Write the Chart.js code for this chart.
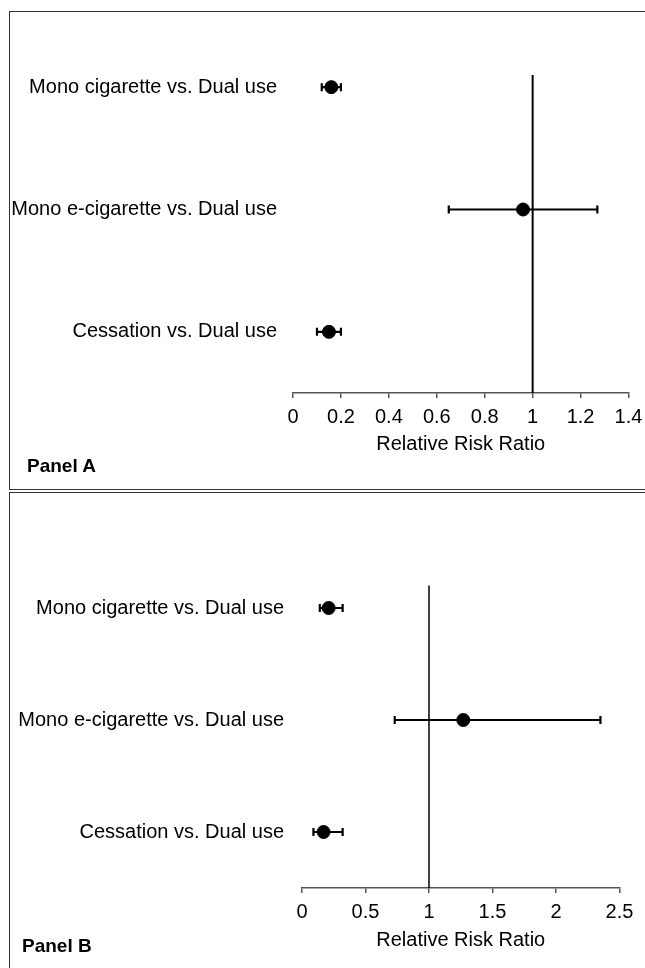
<!DOCTYPE html>
<html>
<head>
<meta charset="utf-8">
<script src="https://cdn.jsdelivr.net/npm/chart.js@4/dist/chart.umd.min.js"></script>
<style>
  body { margin: 0; background: #fff; width: 645px; height: 968px; overflow: hidden; position: relative; }
  .box { position: absolute; border: 1.5px solid #333; box-sizing: border-box; }
  .panel-label { position: absolute; font: bold 19px 'Liberation Sans', Arial, sans-serif; line-height: 22px; color: #000; }
  canvas { position: absolute; left: 0; }
</style>
</head>
<body>
<div class="box" style="left:9px; top:11px; width:660px; height:479px;"></div>
<div class="box" style="left:9px; top:492px; width:660px; height:500px;"></div>
<canvas id="panelA" width="645" height="489" style="top:0px;"></canvas>
<canvas id="panelB" width="645" height="479" style="top:489px;"></canvas>
<div class="panel-label" style="left:27px; top:455px;">Panel A</div>
<div class="panel-label" style="left:22px; top:935px;">Panel B</div>
<script>
// rows, top to bottom
var categories = ['Mono cigarette vs. Dual use', 'Mono e-cigarette vs. Dual use', 'Cessation vs. Dual use'];

// Panel A - relative risk ratios and 95% CI
var rrA = [0.16, 0.96, 0.15];
var loA = [0.12, 0.65, 0.10];
var hiA = [0.20, 1.27, 0.20];
var ticksA = { min: 0, max: 1.4, step: 0.2 };

// Panel B
var rrB = [0.21, 1.27, 0.17];
var loB = [0.14, 0.73, 0.09];
var hiB = [0.32, 2.35, 0.32];
var ticksB = { min: 0, max: 2.5, step: 0.5 };

// reference line at RR = 1 (y from axis to top of line)
var refX = 1;
var refTopA = 3.1;
var refTopB = 3.2;

Chart.defaults.font.family = "'Liberation Sans', Arial, sans-serif";
Chart.defaults.font.size = 20;
Chart.defaults.color = '#000';

// rows are placed at y = 3, 2, 1
var rowY = categories.map(function (c, i) { return categories.length - i; });

// draws the CI whiskers with caps through the chart scales
var errorBars = {
    id: 'errorBars',
    beforeDatasetsDraw: function (chart, args, opts) {
        var ctx = chart.ctx, xs = chart.scales.x, ys = chart.scales.y;
        ctx.save();
        ctx.strokeStyle = '#000';
        ctx.lineWidth = 2.2;
        opts.lo.forEach(function (lo, i) {
            var y = ys.getPixelForValue(rowY[i]);
            var x1 = xs.getPixelForValue(lo);
            var x2 = xs.getPixelForValue(opts.hi[i]);
            ctx.beginPath();
            ctx.moveTo(x1, y); ctx.lineTo(x2, y);
            ctx.moveTo(x1, y - 4); ctx.lineTo(x1, y + 4);
            ctx.moveTo(x2, y - 4); ctx.lineTo(x2, y + 4);
            ctx.stroke();
        });
        ctx.restore();
    }
};

function makePanel(id, p) {
    return new Chart(document.getElementById(id), {
        type: 'scatter',
        data: {
            datasets: [{
                data: p.rr.map(function (v, i) { return { x: v, y: rowY[i] }; }),
                backgroundColor: '#000',
                borderColor: '#000',
                pointRadius: 6.5
            }, {
                type: 'line',
                data: [{ x: refX, y: 0.5 }, { x: refX, y: p.refTop }],
                borderColor: '#000',
                borderWidth: p.refWidth,
                pointRadius: 0
            }]
        },
        options: {
            responsive: false,
            animation: false,
            layout: { padding: { top: p.padTop, right: p.padRight, left: 0, bottom: 0 } },
            plugins: {
                legend: { display: false },
                tooltip: { enabled: false },
                errorBars: { lo: p.lo, hi: p.hi }
            },
            scales: {
                x: {
                    type: 'linear',
                    min: p.ticks.min,
                    max: p.ticks.max,
                    ticks: {
                        stepSize: p.ticks.step, padding: 7, maxRotation: 0,
                        callback: function (v) { return String(Math.round(v * 100) / 100); }
                    },
                    grid: { drawOnChartArea: false, drawTicks: true, tickLength: 5, color: '#555', lineWidth: 1.5 },
                    border: { color: '#555', width: 1.5 },
                    title: { display: true, text: 'Relative Risk Ratio', padding: { top: 0, bottom: p.titlePad } },
                    afterFit: function (scale) {
                        scale.height = p.xHeight;
                        scale.paddingLeft = 0;
                        scale.paddingRight = 0;
                    }
                },
                y: {
                    type: 'linear',
                    min: 0.5,
                    max: 3.5,
                    grid: { display: false },
                    border: { display: false },
                    ticks: {
                        padding: p.labelPad,
                        callback: function (v) { return categories[categories.length - v]; }
                    },
                    afterBuildTicks: function (scale) {
                        scale.ticks = rowY.map(function (v) { return { value: v }; });
                    },
                    afterFit: function (scale) { scale.width = p.yWidth; }
                }
            }
        },
        plugins: [errorBars]
    });
}

makePanel('panelA', {
    rr: rrA, lo: loA, hi: hiA, ticks: ticksA, refTop: refTopA, refWidth: 2,
    padTop: 26, padRight: 16.5, xHeight: 96, titlePad: 32.5, yWidth: 293, labelPad: 8
});

makePanel('panelB', {
    rr: rrB, lo: loB, hi: hiB, ticks: ticksB, refTop: refTopB, refWidth: 1.5,
    padTop: 63, padRight: 25.5, xHeight: 80, titlePad: 15.2, yWidth: 302, labelPad: 10
});
</script>
</body>
</html>
